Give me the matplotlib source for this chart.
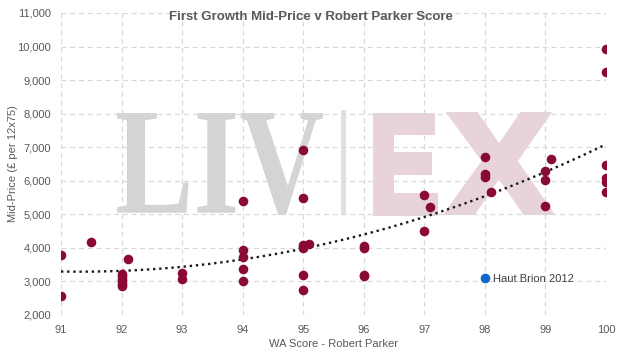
import numpy as np
import matplotlib
matplotlib.use("Agg")
import matplotlib.pyplot as plt
from matplotlib.textpath import TextPath
from matplotlib.patches import PathPatch, Rectangle
from matplotlib.font_manager import FontProperties
from matplotlib.transforms import Affine2D

plt.rcParams['font.family'] = ['Liberation Sans', 'DejaVu Sans']

# Data
scores = [91, 91, 91.5, 92, 92, 92, 92, 92, 92, 92.1,
          93, 93, 94, 94, 94, 94, 94,
          95, 95, 95, 95, 95, 95, 95, 95.1,
          96, 96, 96, 96, 97, 97, 97.1,
          98, 98, 98, 98.1, 99, 99, 99, 99.1,
          100, 100, 100, 100, 100, 100]
prices = [3800, 2570, 4180, 3230, 3150, 3080, 3000, 2930, 2870, 3670,
          3260, 3070, 5400, 3925, 3740, 3380, 3020,
          6910, 5490, 4100, 4030, 3990, 3190, 2750, 4130,
          4050, 4010, 3200, 3160, 5580, 4510, 5220,
          6710, 6190, 6120, 5670, 6300, 6020, 5250, 6650,
          9920, 9240, 6470, 6070, 5970, 5670]
hb_score = [98]
hb_price = [3100]
hb_label = "Haut Brion 2012"

W, H = 619, 352
fig = plt.figure(figsize=(W / 100, H / 100), dpi=100)
ax = fig.add_axes([61 / W, (H - 315) / H, (606 - 61) / W, (315 - 13) / H])


def watermark(text, prop, left, right, top, bottom, color, stroke=0):
    # fit a text outline into a pixel box (top/bottom counted from the top edge)
    tp = TextPath((0, 0), text, size=1, prop=prop)
    ext = tp.get_extents()
    h = stroke / 2
    sx = (right - left - stroke) / ext.width
    sy = (bottom - top - stroke) / ext.height
    tr = (Affine2D().translate(-ext.x0, -ext.y0)
          .scale(sx / 100, sy / 100)
          .translate((left + h) / 100, (H - bottom + h) / 100) + fig.dpi_scale_trans)
    p = PathPatch(tp, facecolor=color, edgecolor=color if stroke else 'none',
                  linewidth=stroke * 0.72, joinstyle='miter', transform=tr,
                  zorder=0, clip_on=False)
    ax.add_artist(p)


serif_b = FontProperties(family='Liberation Serif', weight='bold')
sans_b = FontProperties(family='Liberation Sans', weight='bold')
watermark("LIV", serif_b, 117, 323, 113, 215, '#d4d4d4')
watermark("E", sans_b, 372, 437, 112, 215, '#e9d3db', stroke=7)
watermark("X", sans_b, 446, 552, 112, 215, '#e9d3db', stroke=7)
ax.add_artist(Rectangle((341 / 100, (H - 215) / 100), 5 / 100, 105 / 100,
                        transform=fig.dpi_scale_trans, facecolor='#dfdfe8',
                        edgecolor='none', zorder=0, clip_on=False))

# trend line (polynomial fit over all wines, Haut Brion included)
fit_x = scores + hb_score
fit_y = prices + hb_price
coef = np.polyfit(fit_x, fit_y, 2)
xs = np.linspace(91, 100, 200)
ax.plot(xs, np.polyval(coef, xs), linestyle=(0, (1, 1.6)), color='#1a1a1a',
        linewidth=1.7, zorder=2)

ax.scatter(scores, prices, s=48, color='#8a0a36', zorder=3, linewidths=0)
ax.scatter(hb_score, hb_price, s=48, color='#1166cc', zorder=3, linewidths=0)
ax.annotate(hb_label, (hb_score[0], hb_price[0]), xytext=(6, -1),
            textcoords='offset points', va='center', ha='left',
            fontsize=8, color='#404040')

ax.set_xlim(91, 100)
ax.set_ylim(2000, 11000)
ax.set_xticks(range(91, 101))
ax.set_yticks(range(2000, 11001, 1000))
ax.set_yticklabels([f"{v:,}" for v in range(2000, 11001, 1000)])
ax.grid(True, color='#d9d9d9', linestyle=(0, (4, 3)), linewidth=0.9, zorder=1)
ax.set_axisbelow(True)
ax.patch.set_alpha(0)
for s in ax.spines.values():
    s.set_visible(False)
ax.tick_params(length=0, labelsize=8, labelcolor='#595959', pad=7)

ax.set_xlabel("WA Score - Robert Parker", fontsize=8, color='#595959')
ax.set_ylabel("Mid-Price (£ per 12x75)", fontsize=8, color='#595959')
ax.xaxis.set_label_coords(0.5, -24 / 302)
ax.yaxis.set_label_coords(-43 / 545, 0.5)
fig.text(311 / W, 1 - 17 / H, "First Growth Mid-Price v Robert Parker Score",
         ha='center', va='center', fontsize=9.5, fontweight='bold', color='#595959')

fig.savefig("out.png", dpi=100)
